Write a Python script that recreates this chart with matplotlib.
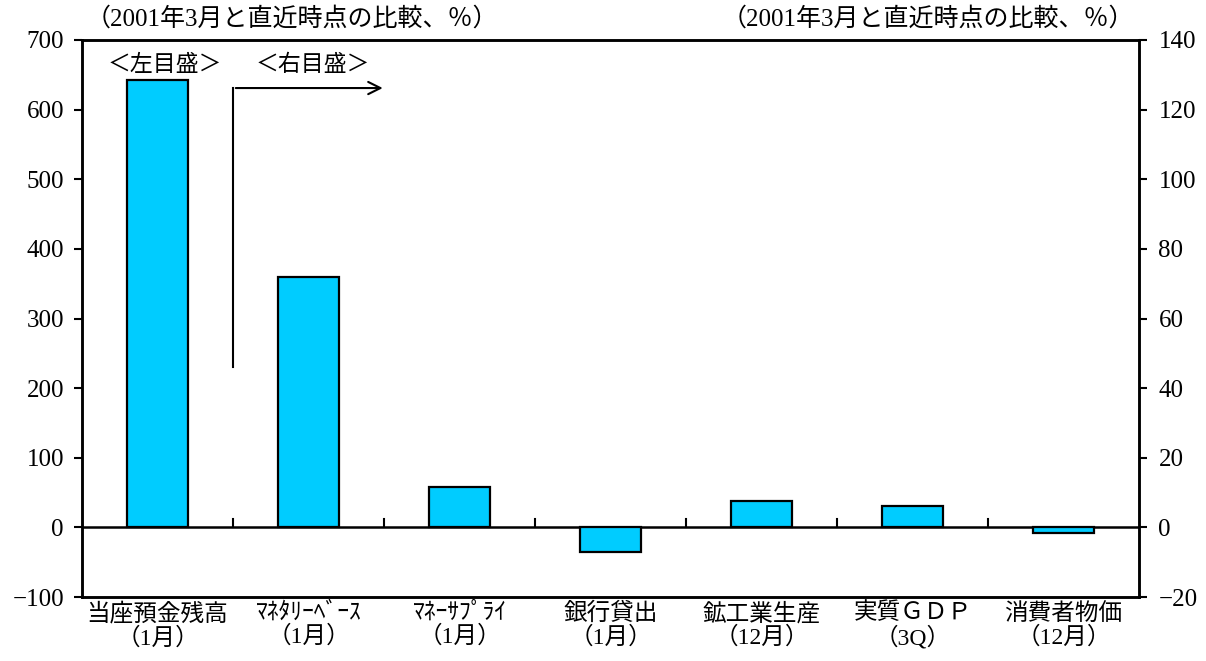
import matplotlib
matplotlib.use("Agg")
import matplotlib.pyplot as plt

plt.rcParams['font.family'] = ['Liberation Serif', 'Noto Sans CJK JP', 'DejaVu Sans']

categories = ["当座預金残高\n（1月）", "ﾏﾈﾀﾘｰﾍﾞｰｽ\n（1月）", "ﾏﾈｰｻﾌﾟﾗｲ\n（1月）",
              "銀行貸出\n（1月）", "鉱工業生産\n（12月）", "実質ＧＤＰ\n（3Q）", "消費者物価\n（12月）"]
left_values = [642]            # left scale (first category)
right_values = [72.0, 11.5, -7.2, 7.7, 6.1, -1.6]   # right scale
left_ticks = [-100, 0, 100, 200, 300, 400, 500, 600, 700]
right_ticks = [-20, 0, 20, 40, 60, 80, 100, 120, 140]
unit_label = "（2001年3月と直近時点の比較、％）"

fig = plt.figure(figsize=(12.06, 6.61), dpi=100)
ax = fig.add_axes([82/1206, 1-597/661, (1139-82)/1206, (597-40)/661])
ax2 = ax.twinx()

bar_color = "#00CCFF"
ax.bar([0], left_values, width=0.4, color=bar_color, edgecolor="black", linewidth=1.6, zorder=3)
ax2.bar(range(1, 1 + len(right_values)), right_values, width=0.4, color=bar_color,
        edgecolor="black", linewidth=1.6, zorder=3)

ax.set_ylim(-100, 700)
ax2.set_ylim(-20, 140)
ax.set_xlim(-0.5, 6.5)
ax.set_yticks(left_ticks)
ax2.set_yticks(right_ticks)
ax.tick_params(axis='y', labelsize=18, length=6, width=1.5, direction='out', pad=7)
ax2.tick_params(axis='y', labelsize=18, length=6, width=1.5, direction='out', pad=8)

ax.set_xticks(range(len(categories)))
ax.set_xticklabels(categories, fontsize=17, linespacing=1.08)
ax.tick_params(axis='x', length=0, pad=4)

for sp in ax.spines.values():
    sp.set_linewidth(1.8)
for sp in ax2.spines.values():
    sp.set_linewidth(1.8)

# zero line and boundary ticks
ax.axhline(0, color="black", linewidth=1.8, zorder=4)
for b in [0.5, 1.5, 2.5, 3.5, 4.5, 5.5]:
    ax.plot([b, b], [0, 12], color="black", linewidth=1.5, zorder=4)

# annotations
ax.text(0.05, 663, "＜左目盛＞", ha="center", va="center", fontsize=16.5)
ax.text(1.03, 663, "＜右目盛＞", ha="center", va="center", fontsize=16.5)
ax.plot([0.5, 0.5], [230, 631], color="black", linewidth=1.5, zorder=4)
ax.annotate("", xy=(1.51, 631), xytext=(0.5, 631),
            arrowprops=dict(arrowstyle="->", color="black", lw=1.5, mutation_scale=22))

fig.text(86/1206, 1-19/661, unit_label, ha="left", va="center", fontsize=18)
fig.text(1134/1206, 1-19/661, unit_label, ha="right", va="center", fontsize=18)

fig.savefig("out.png", dpi=100)
